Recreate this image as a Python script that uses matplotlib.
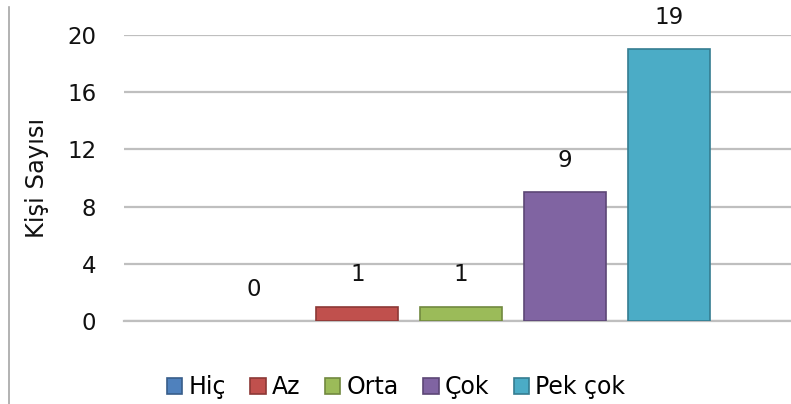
import matplotlib.pyplot as plt
from matplotlib.lines import Line2D

categories = ["Hiç", "Az", "Orta", "Çok", "Pek çok"]
values = [0, 1, 1, 9, 19]
colors = ["#4F81BD", "#C0504D", "#9BBB59", "#8064A2", "#4BACC6"]
edges = ["#385D8A", "#8C3836", "#71893F", "#5C4776", "#357D91"]
yticks = [0, 4, 8, 12, 16, 20]

plt.rcParams["font.family"] = ["DejaVu Sans"]

fig = plt.figure(figsize=(7.91, 4.04), dpi=100)
ax = fig.add_axes([124 / 791, 1 - 321 / 404, 1 - 124 / 791, (321 - 35) / 404])

for i, (cat, v) in enumerate(zip(categories, values)):
    ax.bar(i, v, width=0.79, color=colors[i], edgecolor=edges[i],
           linewidth=1.2 if v > 0 else 0, label=cat, zorder=3)
    ax.annotate(str(v), (i, v), xytext=(0, 23), textcoords="offset points",
                ha="center", va="center", fontsize=16.5, color="#111111",
                annotation_clip=False)

ax.set_xlim(-1.25, 5.18)
ax.set_ylim(0, 20)
ax.set_yticks(yticks)
ax.set_xticks([])
ax.tick_params(axis="y", length=0, pad=20, labelsize=16.5, labelcolor="#111111")
ax.yaxis.grid(True, color="#BFBFBF", linewidth=1.6, zorder=0)
for s in ax.spines.values():
    s.set_visible(False)
ax.axhline(0, color="#BFBFBF", linewidth=1.6, zorder=1, clip_on=False)
ax.set_ylabel("Kişi Sayısı", fontsize=17.5, color="#111111")
ax.yaxis.set_label_coords(-0.112, 0.5)

# legend with square markers below the plot
handles = [plt.Rectangle((0, 0), 1, 1, facecolor=c, edgecolor=e, linewidth=1.2)
           for c, e in zip(colors, edges)]
ax.legend(handles, categories, loc="center",
          bbox_to_anchor=(396 / 791, 1 - 387 / 404),
          bbox_transform=fig.transFigure, ncol=5, frameon=False, fontsize=17,
          handlelength=0.65, handleheight=0.65, handletextpad=0.25,
          columnspacing=1.05, borderpad=0)

fig.add_artist(Line2D([9 / 791, 9 / 791], [0, 1 - 7 / 404], color="#A6A6A6",
                      linewidth=1.2, transform=fig.transFigure))

fig.savefig("out.png", dpi=100)
